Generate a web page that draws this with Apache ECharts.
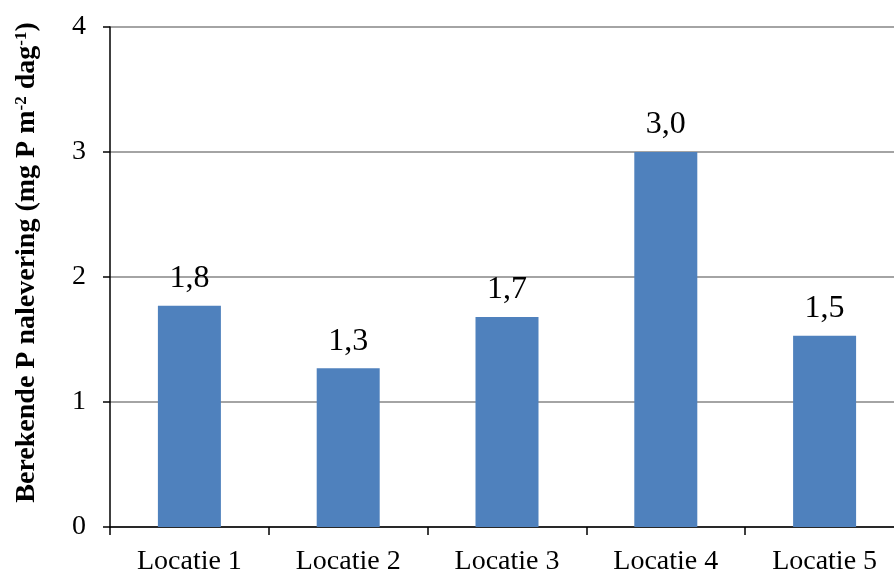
<!DOCTYPE html>
<html>
<head>
<meta charset="utf-8">
<script src="https://cdn.jsdelivr.net/npm/echarts@6/dist/echarts.min.js"></script>
<style>
  html, body { margin: 0; padding: 0; background: #ffffff; }
  #chart { width: 894px; height: 572px; }
</style>
</head>
<body>
<div id="chart"></div>
<script>
// Calculated P release per location (mg P m-2 day-1)
const categories = ['Locatie 1', 'Locatie 2', 'Locatie 3', 'Locatie 4', 'Locatie 5'];
const values = [1.77, 1.27, 1.68, 3.0, 1.53];
const yTicks = [0, 1, 2, 3, 4];

const serif = '"Liberation Serif", "Times New Roman", serif';

const chart = echarts.init(document.getElementById('chart'), null, { renderer: 'canvas' });

chart.setOption({
  animation: false,
  backgroundColor: '#ffffff',
  grid: {
    left: 110, top: 27, width: 794, height: 500,
    containLabel: false,
    outerBoundsMode: 'none'
  },
  xAxis: {
    type: 'category',
    data: categories,
    axisLine: { show: true, lineStyle: { color: '#000000', width: 1.5 } },
    axisTick: { show: true, length: 8, alignWithLabel: false, lineStyle: { color: '#000000', width: 1.5 } },
    axisLabel: { color: '#000000', fontFamily: serif, fontSize: 28, margin: 21 },
    splitLine: { show: false }
  },
  yAxis: {
    type: 'value',
    min: yTicks[0],
    max: yTicks[yTicks.length - 1],
    interval: 1,
    name: 'Berekende P nalevering (mg P m{sup|-2} dag{sup|-1})',
    nameLocation: 'middle',
    nameGap: 69,
    nameTextStyle: {
      color: '#000000',
      fontFamily: serif,
      fontSize: 28,
      fontWeight: 'bold',
      padding: [0, 0, 0, 29],
      rich: {
        sup: {
          fontFamily: serif,
          fontSize: 17,
          fontWeight: 'bold',
          verticalAlign: 'top',
          padding: [0, 0, 11, 0]
        }
      }
    },
    axisLine: { show: true, lineStyle: { color: '#000000', width: 1.5 } },
    axisTick: { show: true, length: 7, lineStyle: { color: '#000000', width: 1.5 } },
    axisLabel: {
      color: '#000000', fontFamily: serif, fontSize: 28, margin: 24,
      formatter: v => String(v)
    },
    splitLine: { show: true, lineStyle: { color: '#868686', width: 1.5 } }
  },
  series: [{
    type: 'bar',
    data: values,
    barWidth: 63,
    itemStyle: { color: '#4F81BD' },
    label: {
      show: true,
      position: 'top',
      distance: 11,
      color: '#000000',
      fontFamily: serif,
      fontSize: 32,
      formatter: p => p.value.toFixed(1).replace('.', ',')
    }
  }]
});
</script>
</body>
</html>
